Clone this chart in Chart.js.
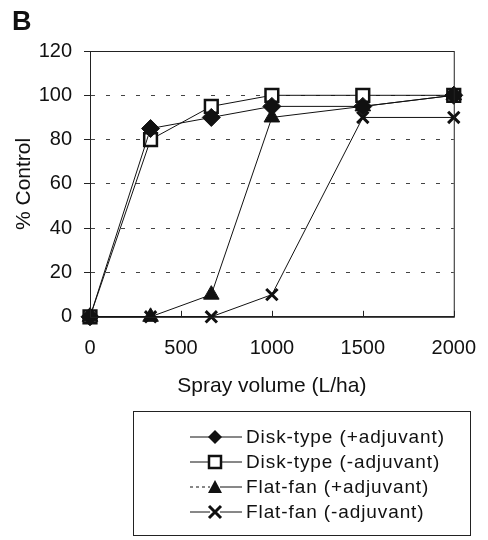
<!DOCTYPE html>
<html>
<head>
<meta charset="utf-8">
<script src="https://cdn.jsdelivr.net/npm/chart.js@4"></script>
<style>
  body { margin: 0; background: #fff; font-family: "Liberation Sans", Arial, sans-serif; }
  #wrap { position: relative; width: 488px; height: 540px; }
  #panel { position: absolute; left: 12px; top: 6px; font-size: 27px; font-weight: bold; color: #111; }
  #legend { position: absolute; left: 133px; top: 411px; width: 338px; height: 125px; border: 1px solid #222; box-sizing: border-box; padding-top: 12px; }
  .row { display: flex; align-items: center; height: 25px; padding-left: 56px; font-size: 19px; letter-spacing: 0.9px; color: #111; }
  .row svg { margin-right: 4px; }
</style>
</head>
<body>
<div id="wrap">
  <canvas id="chart1" width="488" height="540"></canvas>
  <div id="panel">B</div>
  <div id="legend"></div>
</div>
<script>
// spray volume (L/ha)
var xValues = [0, 333, 667, 1000, 1500, 2000];
var diskAdj = [0, 85, 90, 95, 95, 100];
var diskNoAdj = [0, 80, 95, 100, 100, 100];
var fanAdj = [0, 0, 10, 90, 95, 100];
var fanNoAdj = [0, 0, 0, 10, 90, 90];
var names = ["Disk-type (+adjuvant)", "Disk-type (-adjuvant)", "Flat-fan (+adjuvant)", "Flat-fan (-adjuvant)"];
var yTicks = [0, 20, 40, 60, 80, 100, 120];
var xTicks = [0, 500, 1000, 1500, 2000];

function pts(arr) {
    return arr.map(function(v, i) { return {x: xValues[i], y: v}; });
}

var frame = {
    id: 'frame',
    afterDraw: function(chart) {
        var a = chart.chartArea, ctx = chart.ctx;
        ctx.save();
        ctx.strokeStyle = '#222';
        ctx.lineWidth = 1;
        ctx.strokeRect(a.left + 0.5, a.top + 0.5, a.right - a.left, a.bottom - a.top);
        // little inside tick marks on the x axis
        xTicks.forEach(function(v) {
            var px = Math.round(chart.scales.x.getPixelForValue(v)) + 0.5;
            ctx.beginPath();
            ctx.moveTo(px, a.bottom);
            ctx.lineTo(px, a.bottom - 6);
            ctx.stroke();
        });
        ctx.restore();
    }
};

new Chart("chart1", {
    type: "line",
    data: {
        datasets: [{
            label: names[0],
            data: pts(diskAdj),
            borderColor: "#111",
            borderWidth: 1,
            pointStyle: "rectRot",
            pointRadius: 9,
            pointBackgroundColor: "#111",
            pointBorderColor: "#111",
            clip: false,
            fill: false
        }, {
            label: names[1],
            data: pts(diskNoAdj),
            borderColor: "#111",
            borderWidth: 1,
            pointStyle: "rect",
            pointRadius: 9,
            pointBorderWidth: 2.5,
            pointBackgroundColor: "#fff",
            pointBorderColor: "#111",
            clip: false,
            fill: false
        }, {
            label: names[2],
            data: pts(fanAdj),
            borderColor: "#111",
            borderWidth: 1,
            pointStyle: "triangle",
            pointRadius: 9,
            pointBackgroundColor: "#111",
            pointBorderColor: "#111",
            clip: false,
            fill: false
        }, {
            label: names[3],
            data: pts(fanNoAdj),
            borderColor: "#111",
            borderWidth: 1,
            pointStyle: "crossRot",
            pointRadius: 8,
            pointBorderWidth: 3,
            pointBorderColor: "#111",
            clip: false,
            fill: false
        }]
    },
    options: {
        responsive: false,
        animation: false,
        layout: {padding: {top: 51, right: 26, left: 0, bottom: 137}},
        plugins: {legend: {display: false}, tooltip: {enabled: false}},
        scales: {
            x: {
                type: "linear",
                min: 0, max: 2000,
                afterBuildTicks: function(s) { s.ticks = xTicks.map(function(v) { return {value: v}; }); },
                grid: {display: false},
                border: {color: "#222"},
                ticks: {
                    color: "#111", font: {family: "Liberation Sans", size: 20}, padding: 12, maxRotation: 0,
                    callback: function(v) { return String(v); }
                },
                title: {display: true, text: "Spray volume (L/ha)", color: "#111", font: {family: "Liberation Sans", size: 21}, padding: {top: 1}}
            },
            y: {
                min: 0, max: 120,
                afterFit: function(s) { s.width = 90; },
                afterBuildTicks: function(s) { s.ticks = yTicks.map(function(v) { return {value: v}; }); },
                grid: {
                    color: function(c) { return (c.tick && (c.tick.value === 0 || c.tick.value === 120)) ? "rgba(0,0,0,0)" : "#444"; },
                    tickColor: "#222",
                    tickLength: 6
                },
                border: {color: "#222", dash: [4, 11]},
                ticks: {color: "#111", font: {family: "Liberation Sans", size: 20}, padding: 12},
                title: {display: true, text: "% Control", color: "#111", font: {family: "Liberation Sans", size: 21}, padding: {top: 12, bottom: 4}}
            }
        }
    },
    plugins: [frame]
});

// legend: line with the marker on it, as in the figure
var icons = [
    '<polygon points="25,3 32,10 25,17 18,10" fill="#111"/>',
    '<rect x="19" y="4" width="12" height="12" fill="#fff" stroke="#111" stroke-width="2.5"/>',
    '<polygon points="25,3 32,16 18,16" fill="#111"/>',
    '<path d="M19,4 L31,16 M31,4 L19,16" stroke="#111" stroke-width="3"/>'
];
var lg = document.getElementById("legend");
names.forEach(function(n, i) {
    var dash = i === 2 ? ' stroke-dasharray="3,3"' : '';
    lg.innerHTML += '<div class="row"><svg width="52" height="20">' +
        '<line x1="0" y1="10" x2="20" y2="10" stroke="#111" stroke-width="1"' + dash + '/>' +
        '<line x1="30" y1="10" x2="52" y2="10" stroke="#111" stroke-width="1"/>' +
        icons[i] + '</svg>' + n + '</div>';
});
</script>
</body>
</html>
